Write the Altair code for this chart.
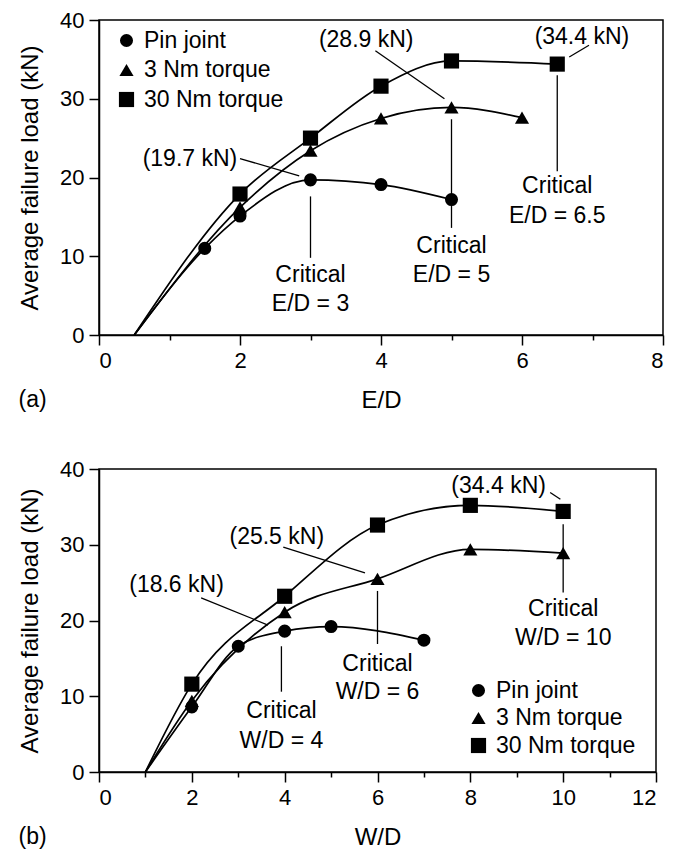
import altair as alt
import pandas as pd

FONT = "Liberation Sans"

series = ["Pin joint", "3 Nm torque", "30 Nm torque"]
shapes = ["circle", "triangle-up", "square"]
sizes = [170, 230, 290]

# ---------------- Panel (a): E/D ----------------
ed_pin_x = [1.5, 2, 3, 4, 5]
ed_pin_y = [11.0, 15.1, 19.7, 19.1, 17.2]
ed_3nm_x = [2, 3, 4, 5, 6]
ed_3nm_y = [16.2, 23.4, 27.5, 28.9, 27.6]
ed_30nm_x = [2, 3, 4, 5, 6.5]
ed_30nm_y = [17.9, 25.0, 31.6, 34.8, 34.4]
ed_origin = [0.5, 0.0]

ed_note_text = ["(19.7 kN)", "(28.9 kN)", "(34.4 kN)"]
ed_note_x = [1.29, 3.79, 6.85]
ed_note_y = [22.4, 37.4, 37.8]
ed_leader_x = [2.0, 3.92, 6.95]
ed_leader_y = [22.4, 36.1, 36.8]
ed_leader_x2 = [2.84, 4.9, 6.67]
ed_leader_y2 = [20.2, 30.0, 35.3]

ed_crit_x = [3, 5, 6.5]
ed_crit_top = [17.6, 27.4, 33.0]
ed_crit_bottom = [9.8, 13.6, 20.8]
ed_crit_line1_y = [7.6, 11.3, 18.9]
ed_crit_line2_y = [4.0, 7.6, 15.1]
ed_crit_label = ["E/D = 3", "E/D = 5", "E/D = 6.5"]

# ---------------- Panel (b): W/D ----------------
wd_pin_x = [2, 3, 4, 5, 7]
wd_pin_y = [8.6, 16.6, 18.6, 19.2, 17.4]
wd_3nm_x = [2, 4, 6, 8, 10]
wd_3nm_y = [9.4, 21.1, 25.5, 29.4, 28.9]
wd_30nm_x = [2, 4, 6, 8, 10]
wd_30nm_y = [11.6, 23.2, 32.6, 35.2, 34.4]
wd_origin = [1.0, 0.0]

wd_note_text = ["(18.6 kN)", "(25.5 kN)", "(34.4 kN)"]
wd_note_x = [1.67, 3.83, 8.61]
wd_note_y = [24.7, 31.0, 37.7]
wd_leader_x = [2.2, 3.97, 9.72]
wd_leader_y = [23.0, 29.7, 36.9]
wd_leader_x2 = [3.64, 5.73, 9.94]
wd_leader_y2 = [19.4, 26.3, 36.0]

wd_crit_x = [3.93, 6, 10]
wd_crit_top = [16.6, 23.9, 32.7]
wd_crit_bottom = [10.6, 16.9, 23.7]
wd_crit_line1_y = [8.0, 14.2, 21.5]
wd_crit_line2_y = [4.1, 10.6, 17.7]
wd_crit_label = ["W/D = 4", "W/D = 6", "W/D = 10"]


def build_panel(xs, ys, origin, note_text, note_x, note_y, lx, ly, lx2, ly2,
                crit_x, crit_top, crit_bottom, c1y, c2y, crit_label,
                xmax, xtitle, tag, width, height, legend_x, legend_y, row_pad):
    pts = []
    lines = []
    for s, x, y in zip(series, xs, ys):
        lines.append({"s": s, "x": origin[0], "y": origin[1], "o": 0})
        for i, (a, b) in enumerate(zip(x, y)):
            pts.append({"s": s, "x": a, "y": b})
            lines.append({"s": s, "x": a, "y": b, "o": i + 1})
    pts = pd.DataFrame(pts)
    lines = pd.DataFrame(lines)

    rules = pd.DataFrame({
        "x": lx + crit_x,
        "y": ly + crit_top,
        "x2": lx2 + crit_x,
        "y2": ly2 + crit_bottom,
    })
    texts = pd.DataFrame({
        "x": note_x + crit_x + crit_x,
        "y": note_y + c1y + c2y,
        "t": note_text + ["Critical"] * len(crit_x) + crit_label,
    })

    xscale = alt.Scale(domain=[0, xmax], nice=False, zero=False)
    yscale = alt.Scale(domain=[0, 40], nice=False)
    xaxis = alt.Axis(
        values=list(range(0, xmax + 1)),
        format="d",
        labelExpr="datum.value % 2 === 0 ? datum.label : ''",
        tickSize={"condition": {"test": "datum.value % 2 !== 0", "value": 5}, "value": 10},
        title=xtitle,
        grid=False,
    )
    yaxis = alt.Axis(
        values=list(range(0, 41, 5)),
        format="d",
        labelExpr="datum.value % 10 === 0 ? datum.label : ''",
        tickSize={"condition": {"test": "datum.value % 10 !== 0", "value": 5}, "value": 10},
        title="Average failure load (kN)",
        grid=False,
    )

    X = alt.X("x:Q", scale=xscale, axis=xaxis)
    Y = alt.Y("y:Q", scale=yscale, axis=yaxis)

    line_layer = alt.Chart(lines).mark_line(
        interpolate="monotone", color="black", strokeWidth=1.7
    ).encode(x=X, y=Y, detail="s:N", order="o:Q")

    rule_layer = alt.Chart(rules).mark_rule(color="black", strokeWidth=1.3).encode(
        x="x:Q", y="y:Q", x2="x2:Q", y2="y2:Q"
    )

    legend = alt.Legend(
        title=None, orient="none", legendX=legend_x, legendY=legend_y,
        labelFont=FONT, labelFontSize=23, labelColor="black",
        symbolFillColor="black", symbolStrokeColor="black", symbolStrokeWidth=0,
        rowPadding=row_pad, labelOffset=6, padding=0,
    )
    point_layer = alt.Chart(pts).mark_point(filled=True, opacity=1, color="black").encode(
        x="x:Q", y="y:Q",
        shape=alt.Shape("s:N", scale=alt.Scale(domain=series, range=shapes), legend=legend),
        size=alt.Size("s:N", scale=alt.Scale(domain=series, range=sizes), legend=legend),
    )

    text_layer = alt.Chart(texts).mark_text(
        font=FONT, fontSize=23, color="black", align="center", baseline="middle"
    ).encode(x="x:Q", y="y:Q", text="t:N")

    return alt.layer(rule_layer, line_layer, point_layer, text_layer).properties(
        width=width, height=height,
        title=alt.TitleParams(tag, orient="bottom", anchor="start", frame="bounds",
                              offset=-23, fontSize=23, font=FONT, fontWeight="normal",
                              color="black"),
    )


top = build_panel(
    [ed_pin_x, ed_3nm_x, ed_30nm_x], [ed_pin_y, ed_3nm_y, ed_30nm_y], ed_origin,
    ed_note_text, ed_note_x, ed_note_y, ed_leader_x, ed_leader_y, ed_leader_x2, ed_leader_y2,
    ed_crit_x, ed_crit_top, ed_crit_bottom, ed_crit_line1_y, ed_crit_line2_y, ed_crit_label,
    8, "E/D", "(a)", 564, 315, 16, 9, 5.5,
)
bottom = build_panel(
    [wd_pin_x, wd_3nm_x, wd_30nm_x], [wd_pin_y, wd_3nm_y, wd_30nm_y], wd_origin,
    wd_note_text, wd_note_x, wd_note_y, wd_leader_x, wd_leader_y, wd_leader_x2, wd_leader_y2,
    wd_crit_x, wd_crit_top, wd_crit_bottom, wd_crit_line1_y, wd_crit_line2_y, wd_crit_label,
    12, "W/D", "(b)", 557, 303, 368, 210, 3.5,
)

chart = alt.vconcat(top, bottom, spacing=44).resolve_scale(
    shape="independent", size="independent"
).resolve_legend(
    shape="independent", size="independent"
).properties(
    padding={"left": 9, "top": 0, "right": 0, "bottom": 0}
).configure_view(
    stroke="black", strokeWidth=1.5
).configure_axis(
    domainColor="black", domainWidth=1.5, tickColor="black", tickWidth=1.5,
    labelFont=FONT, labelFontSize=22, labelColor="black", labelPadding=5,
    titleFont=FONT, titleFontSize=24, titleColor="black", titleFontWeight="normal",
).configure_axisY(
    titlePadding=17
).configure_axisX(
    titlePadding=17
).configure_legend(
    labelFont=FONT
)

chart.save("out.html", embed_options={"renderer": "svg", "actions": False})
